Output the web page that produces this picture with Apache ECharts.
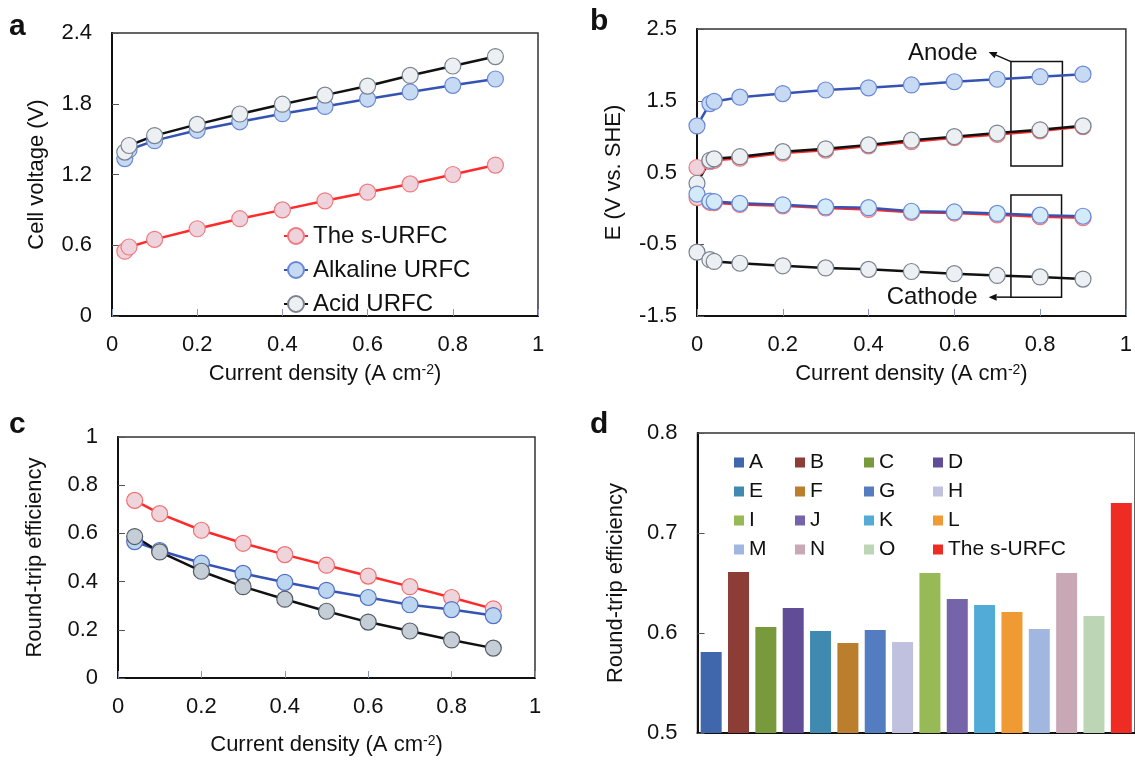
<!DOCTYPE html>
<html>
<head>
<meta charset="utf-8">
<script src="https://cdn.jsdelivr.net/npm/echarts@6/dist/echarts.min.js"></script>
<style>
  html, body { margin: 0; padding: 0; background: #fff; }
  #wrap { position: relative; width: 1135px; height: 761px; overflow: hidden; }
  .panel { position: absolute; }
</style>
</head>
<body>
<div id="wrap">
  <div id="pa" class="panel" style="left:0;top:0;width:567px;height:390px"></div>
  <div id="pb" class="panel" style="left:567px;top:0;width:568px;height:390px"></div>
  <div id="pc" class="panel" style="left:0;top:390px;width:567px;height:371px"></div>
  <div id="pd" class="panel" style="left:567px;top:390px;width:568px;height:371px"></div>
</div>
<script>
  const FONT = '"Liberation Sans", Arial, sans-serif';

  // a: cell voltage
  const xA = [0.03, 0.04, 0.1, 0.2, 0.3, 0.4, 0.5, 0.6, 0.7, 0.8, 0.9];
  const aSurfc = [0.55, 0.585, 0.65, 0.74, 0.825, 0.90, 0.977, 1.05, 1.12, 1.20, 1.28];
  const aAlkaline = [1.335, 1.41, 1.487, 1.575, 1.647, 1.716, 1.777, 1.84, 1.90, 1.956, 2.01];
  const aAcid = [1.39, 1.446, 1.53, 1.625, 1.713, 1.796, 1.873, 1.95, 2.04, 2.12, 2.20];

  // b: electrode potentials
  const xB = [0, 0.03, 0.04, 0.1, 0.2, 0.3, 0.4, 0.5, 0.6, 0.7, 0.8, 0.9];
  const bAlkAnode = [1.15, 1.46, 1.49, 1.55, 1.60, 1.65, 1.68, 1.72, 1.765, 1.80, 1.835, 1.87];
  const bSurfcAnode = [0.57, 0.65, 0.67, 0.70, 0.77, 0.81, 0.87, 0.93, 0.985, 1.03, 1.08, 1.14];
  const bAcidAnode = [0.35, 0.67, 0.69, 0.72, 0.79, 0.83, 0.885, 0.95, 1.0, 1.05, 1.095, 1.15];
  const bSurfcCathode = [0.15, 0.085, 0.08, 0.055, 0.035, 0.005, -0.015, -0.055, -0.065, -0.09, -0.115, -0.13];
  const bAlkCathode = [0.2, 0.10, 0.095, 0.07, 0.05, 0.02, 0.01, -0.04, -0.05, -0.07, -0.095, -0.11];
  const bAcidCathode = [-0.61, -0.715, -0.74, -0.765, -0.80, -0.83, -0.85, -0.88, -0.91, -0.935, -0.955, -0.985];
  const bTicks = [-1.5, -0.5, 0.5, 1.5, 2.5];

  // c: round-trip efficiency vs current
  const xC = [0.04, 0.1, 0.2, 0.3, 0.4, 0.5, 0.6, 0.7, 0.8, 0.9];
  const cSurfc = [0.737, 0.682, 0.613, 0.559, 0.512, 0.468, 0.423, 0.379, 0.334, 0.287];
  const cAlkaline = [0.566, 0.529, 0.477, 0.434, 0.397, 0.364, 0.334, 0.304, 0.284, 0.259];
  const cAcid = [0.587, 0.523, 0.443, 0.379, 0.327, 0.277, 0.232, 0.195, 0.158, 0.124];

  // d: comparison bars
  const dNames = ['A', 'B', 'C', 'D', 'E', 'F', 'G', 'H', 'I', 'J', 'K', 'L', 'M', 'N', 'O', 'The s-URFC'];
  const dValues = [0.581, 0.661, 0.606, 0.625, 0.602, 0.590, 0.603, 0.591, 0.660, 0.634, 0.628, 0.621, 0.604, 0.660, 0.617, 0.730];
  const dColors = ['#4066ac', '#8c3d36', '#79993d', '#614c97', '#408ab1', '#ba7e2c', '#547cc0', '#c0c0df',
                   '#97ba56', '#7664ab', '#52aad6', '#f09a34', '#a1b7e0', '#c9a8b6', '#bcd5b5', '#ee2c24'];

  const RED = { line: '#ff2a2a', fill: '#eed3dc', border: '#f07a80' };
  const BLUE = { line: '#3553b3', fill: '#c6dbf3', border: '#6b88d6' };
  const BLACK = { line: '#111111', fill: '#edf0f3', border: '#7a8290' };

  const pairs = (xs, ys) => xs.map((x, i) => [x, ys[i]]);

  function lineSeries(name, data, st, fill, border) {
    return {
      type: 'line', name: name, data: data,
      symbol: 'circle', symbolSize: 16, showAllSymbol: true,
      lineStyle: { color: st.line, width: 2.5 },
      itemStyle: { color: fill || st.fill, borderColor: border || st.border, borderWidth: 1.2 },
      emphasis: { disabled: true }, animation: false
    };
  }

  const txt = { color: '#111', fontFamily: FONT };

  function xCurrent(gap) {
    return {
      type: 'value', min: 0, max: 1, interval: 0.2,
      axisLine: { show: true, onZero: false, lineStyle: { color: '#111', width: 2 } },
      axisTick: { show: true, inside: true, length: 7, lineStyle: { color: '#8a96b4', width: 1 } },
      axisLabel: Object.assign({ fontSize: 22, margin: 18 }, txt),
      splitLine: { show: false },
      name: 'Current density (A cm{sup|-2})', nameLocation: 'middle', nameGap: gap,
      nameTextStyle: Object.assign({ fontSize: 22, rich: { sup: Object.assign({ fontSize: 14, verticalAlign: 'top', lineHeight: 14 }, txt) } }, txt)
    };
  }

  function yValue(name, gap, extra) {
    return Object.assign({
      type: 'value',
      axisLine: { show: true, onZero: false, lineStyle: { color: '#111', width: 2 } },
      axisTick: { show: true, inside: true, length: 7, lineStyle: { color: '#555', width: 1 } },
      axisLabel: Object.assign({ fontSize: 22, margin: 20 }, txt),
      splitLine: { show: false },
      name: name, nameLocation: 'middle', nameGap: gap,
      nameTextStyle: Object.assign({ fontSize: 22 }, txt)
    }, extra);
  }

  const gridBox = { show: true, borderColor: '#333', borderWidth: 1.5, containLabel: false };

  function letter(ch, left, top) {
    return { type: 'text', left: left, top: top, style: { text: ch, font: 'bold 30px ' + FONT, fill: '#111' } };
  }

  // ---------- a ----------
  const chartA = echarts.init(document.getElementById('pa'));
  chartA.setOption({
    animation: false,
    grid: Object.assign({ left: 112, top: 33, width: 426, height: 290 }, gridBox),
    xAxis: xCurrent(47),
    yAxis: yValue('Cell voltage (V)', 64, { min: 0, max: 2.4, interval: 0.6 }),
    legend: {
      orient: 'vertical', left: 278, top: 219, itemWidth: 24, itemHeight: 20, itemGap: 10,
      selectedMode: false, textStyle: Object.assign({ fontSize: 24, lineHeight: 24 }, txt),
      data: ['The s-URFC', 'Alkaline URFC', 'Acid URFC']
    },
    graphic: [letter('a', 9, 12)],
    series: [
      lineSeries('The s-URFC', pairs(xA, aSurfc), RED),
      lineSeries('Alkaline URFC', pairs(xA, aAlkaline), BLUE),
      lineSeries('Acid URFC', pairs(xA, aAcid), BLACK)
    ]
  });

  // ---------- b ----------
  const chartB = echarts.init(document.getElementById('pb'));
  chartB.setOption({
    animation: false,
    grid: Object.assign({ left: 130, top: 29, width: 434, height: 294 }, gridBox),
    xAxis: xCurrent(47),
    yAxis: yValue('E (V vs. SHE)', 72, {
      min: -1.5, max: 2.5,
      axisLabel: Object.assign({ fontSize: 22, margin: 20, customValues: bTicks }, txt),
      axisTick: { show: true, inside: true, length: 7, customValues: bTicks, lineStyle: { color: '#555', width: 1 } }
    }),
    series: [
      lineSeries('s-URFC anode', pairs(xB, bSurfcAnode), RED),
      lineSeries('Acid anode', pairs(xB, bAcidAnode), BLACK),
      lineSeries('s-URFC cathode', pairs(xB, bSurfcCathode), RED),
      lineSeries('Alkaline cathode', pairs(xB, bAlkCathode), BLUE, '#d3ebf8'),
      lineSeries('Alkaline anode', pairs(xB, bAlkAnode), BLUE),
      lineSeries('Acid cathode', pairs(xB, bAcidCathode), BLACK)
    ]
  });

  function arrow(p0, p1) {
    const dx = p1[0] - p0[0], dy = p1[1] - p0[1];
    const len = Math.hypot(dx, dy), ux = dx / len, uy = dy / len;
    const hl = 8, hw = 3.5;
    const base = [p1[0] - ux * hl, p1[1] - uy * hl];
    return [
      { type: 'polyline', shape: { points: [p0, base] }, style: { stroke: '#111', lineWidth: 1.5 } },
      { type: 'polygon', shape: { points: [p1, [base[0] - uy * hw, base[1] + ux * hw], [base[0] + uy * hw, base[1] - ux * hw]] }, style: { fill: '#111' } }
    ];
  }

  const toB = (p) => chartB.convertToPixel({ gridIndex: 0 }, p);
  function box(p0, p1) {
    const a = toB(p0), b = toB(p1);
    return { type: 'rect', shape: { x: a[0], y: a[1], width: b[0] - a[0], height: b[1] - a[1] },
             style: { fill: 'none', stroke: '#111', lineWidth: 1.5 } };
  }
  function label(s, p) {
    const q = toB(p);
    return { type: 'text', x: q[0], y: q[1], style: { text: s, align: 'right', verticalAlign: 'middle', font: '24px ' + FONT, fill: '#111' } };
  }
  chartB.setOption({
    graphic: [
      letter('b', 23, 7),
      box([0.732, 2.046], [0.852, 0.59]),
      box([0.732, 0.187], [0.85, -1.237]),
      ...arrow(toB([0.732, 2.046]), toB([0.68, 2.18])),
      ...arrow(toB([0.732, -1.237]), toB([0.68, -1.237])),
      label('Anode', [0.654, 2.16]),
      label('Cathode', [0.654, -1.237])
    ]
  });

  // ---------- c ----------
  const chartC = echarts.init(document.getElementById('pc'));
  chartC.setOption({
    animation: false,
    grid: Object.assign({ left: 118, top: 47, width: 417, height: 244 }, gridBox),
    xAxis: xCurrent(56),
    yAxis: yValue('Round-trip efficiency', 72, { min: 0, max: 1, interval: 0.2 }),
    graphic: [letter('c', 9, 20)],
    series: [
      lineSeries('The s-URFC', pairs(xC, cSurfc), RED, '#f0d4dc', '#f07070'),
      lineSeries('Alkaline URFC', pairs(xC, cAlkaline), BLUE, '#bcd6f0', '#5070c8'),
      lineSeries('Acid URFC', pairs(xC, cAcid), BLACK, '#c5cdd6', '#555c66')
    ]
  });

  // ---------- d ----------
  const chartD = echarts.init(document.getElementById('pd'));
  const dCols = [162, 223, 292, 361];
  chartD.setOption({
    animation: false,
    grid: Object.assign({ left: 130.5, top: 43, width: 440, height: 300 }, gridBox),
    xAxis: {
      type: 'category', data: dNames,
      axisLine: { show: true, lineStyle: { color: '#111', width: 2 } },
      axisTick: { show: false }, axisLabel: { show: false }, splitLine: { show: false }
    },
    yAxis: yValue('Round-trip efficiency', 71, {
      min: 0.5, max: 0.8, interval: 0.1,
      axisLabel: Object.assign({ fontSize: 22, margin: 20, formatter: (v) => v.toFixed(1) }, txt)
    }),
    legend: dCols.map((left, k) => ({
      orient: 'vertical', left: left, top: 57, itemWidth: 10, itemHeight: 10, itemGap: 8,
      icon: 'rect', selectedMode: false,
      textStyle: Object.assign({ fontSize: 21, lineHeight: 21 }, txt),
      data: dNames.filter((_, i) => i % 4 === k)
    })),
    graphic: [letter('d', 23, 20)],
    series: dNames.map((n, i) => ({
      type: 'bar', name: n, barWidth: 21, barGap: '-100%',
      data: dNames.map((_, j) => (j === i ? dValues[i] : '-')),
      itemStyle: { color: dColors[i] },
      emphasis: { disabled: true }
    }))
  });
</script>
</body>
</html>
